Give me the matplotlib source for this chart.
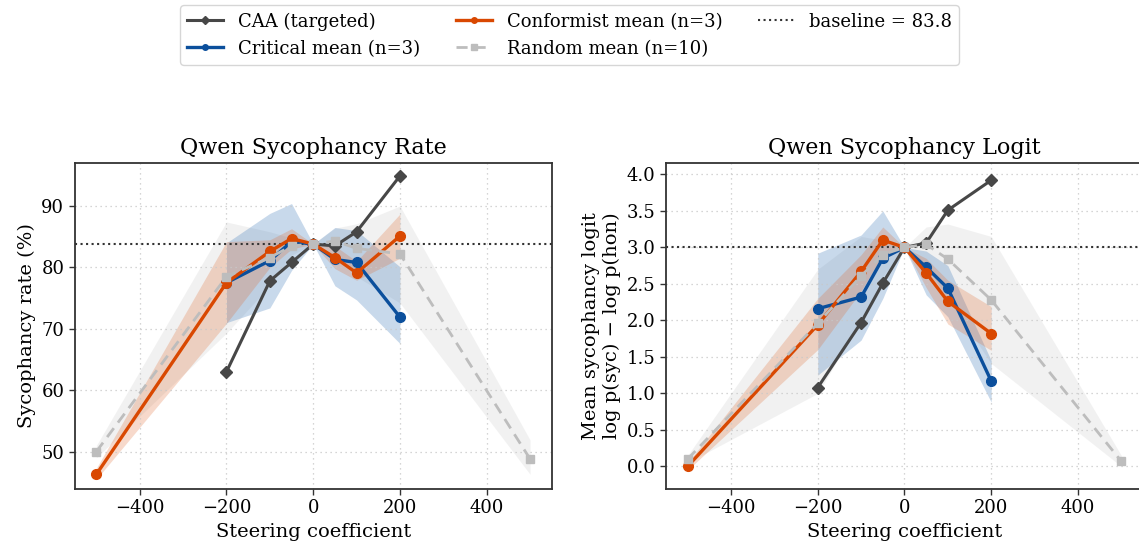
import matplotlib
matplotlib.use("Agg")
import matplotlib.pyplot as plt
from matplotlib.lines import Line2D
import numpy as np

plt.rcParams['font.family'] = ['DejaVu Serif']

# ---------------- data ----------------
caa_x = [-200, -100, -50, 0, 50, 100, 200]
caa_rate = [63.0, 77.8, 80.8, 83.8, 83.5, 85.8, 94.9]
caa_logit = [1.08, 1.97, 2.51, 3.00, 3.06, 3.51, 3.92]

crit_x = [-200, -100, -50, 0, 50, 100, 200]
crit_rate = [77.5, 81.1, 84.2, 83.8, 81.3, 80.8, 71.9]
crit_rate_lo = [71.0, 73.4, 79.5, 83.8, 77.0, 74.7, 67.6]
crit_rate_hi = [84.0, 88.8, 90.4, 83.8, 86.5, 86.0, 80.1]
crit_logit = [2.16, 2.32, 2.85, 3.00, 2.73, 2.44, 1.17]
crit_logit_lo = [1.25, 1.73, 2.30, 3.00, 2.35, 2.05, 0.88]
crit_logit_hi = [2.92, 3.17, 3.50, 3.00, 2.95, 2.75, 1.45]

conf_x = [-500, -200, -100, -50, 0, 50, 100, 200]
conf_rate = [46.3, 77.5, 82.6, 84.7, 83.8, 81.6, 79.1, 85.1]
conf_rate_lo = [45.5, 70.9, 80.0, 83.0, 83.8, 79.8, 77.9, 81.5]
conf_rate_hi = [47.3, 84.2, 84.5, 86.3, 83.8, 83.5, 81.0, 88.7]
conf_logit = [0.00, 1.94, 2.67, 3.10, 3.00, 2.65, 2.26, 1.82]
conf_logit_lo = [-0.05, 1.60, 2.40, 2.90, 3.00, 2.45, 1.95, 1.59]
conf_logit_hi = [0.05, 2.30, 2.90, 3.28, 3.00, 2.85, 2.55, 2.19]

rand_x = [-500, -200, -100, -50, 0, 50, 100, 200, 500]
rand_rate = [50.0, 78.5, 81.6, 83.5, 83.8, 84.3, 83.1, 82.2, 48.8]
rand_rate_lo = [49.0, 69.3, 77.0, 82.0, 83.8, 83.0, 78.5, 74.2, 46.3]
rand_rate_hi = [51.0, 87.4, 85.8, 84.8, 83.8, 86.4, 87.1, 90.0, 51.9]
rand_logit = [0.10, 1.96, 2.61, 2.90, 3.00, 3.04, 2.84, 2.28, 0.07]
rand_logit_lo = [0.05, 1.00, 2.00, 2.60, 3.00, 2.75, 2.30, 1.41, 0.00]
rand_logit_hi = [0.15, 2.70, 3.15, 3.10, 3.00, 3.28, 3.32, 3.15, 0.15]

baseline_rate = 83.8
baseline_logit = 3.0

C_CAA = '#474747'
C_CRIT = '#0b4f9c'
C_CONF = '#d94801'
C_RAND = '#bdbdbd'

fig = plt.figure(figsize=(11.39, 5.52), dpi=100)
ax1 = fig.add_axes([0.0656, 0.1141, 0.4188, 0.5911])
ax2 = fig.add_axes([0.5847, 0.1141, 0.4188, 0.5911])

def draw(ax, caa, crit, crit_lo, crit_hi, conf, conf_lo, conf_hi,
         rnd, rnd_lo, rnd_hi, base):
    ax.fill_between(rand_x, rnd_lo, rnd_hi, color='#d9d9d9', alpha=0.35, lw=0)
    ax.fill_between(crit_x, crit_lo, crit_hi, color='#3c78b8', alpha=0.28, lw=0)
    ax.fill_between(conf_x, conf_lo, conf_hi, color='#e06a30', alpha=0.25, lw=0)
    ax.axhline(base, color='#333333', ls=':', lw=1.5, zorder=2)
    ax.plot(caa_x, caa, color=C_CAA, lw=2.2, marker='D', ms=6.5, zorder=3)
    ax.plot(crit_x, crit, color=C_CRIT, lw=2.4, marker='o', ms=7, zorder=4)
    ax.plot(conf_x, conf, color=C_CONF, lw=2.4, marker='o', ms=7, zorder=5)
    ax.plot(rand_x, rnd, color=C_RAND, ls='--', lw=2, marker='s',
            ms=6, zorder=6, dashes=(4, 2.5))
    ax.set_xlim(-550, 550)
    ax.set_xticks([-400, -200, 0, 200, 400])
    ax.grid(True, ls=(0, (1, 3)), color='#c8c8c8', lw=0.9)
    for s in ax.spines.values():
        s.set_color('#333333')
        s.set_linewidth(1.3)
    ax.tick_params(direction='out', length=4, width=1, colors='#333333',
                   labelsize=13, labelcolor='black')
    ax.set_xlabel('Steering coefficient', fontsize=14)

draw(ax1, caa_rate, crit_rate, crit_rate_lo, crit_rate_hi,
     conf_rate, conf_rate_lo, conf_rate_hi,
     rand_rate, rand_rate_lo, rand_rate_hi, baseline_rate)
ax1.set_ylim(43.9, 97.05)
ax1.set_yticks([50, 60, 70, 80, 90])
ax1.set_ylabel('Sycophancy rate (%)', fontsize=14)
ax1.set_title('Qwen Sycophancy Rate', fontsize=16)

draw(ax2, caa_logit, crit_logit, crit_logit_lo, crit_logit_hi,
     conf_logit, conf_logit_lo, conf_logit_hi,
     rand_logit, rand_logit_lo, rand_logit_hi, baseline_logit)
ax2.set_ylim(-0.31, 4.16)
ax2.set_yticks(np.arange(0, 4.01, 0.5))
ax2.set_ylabel('Mean sycophancy logit\nlog p(syc) \u2212 log p(hon)', fontsize=14)
ax2.set_title('Qwen Sycophancy Logit', fontsize=16)

handles = [
    Line2D([], [], color=C_CAA, lw=2.2, marker='D', ms=4),
    Line2D([], [], color=C_CRIT, lw=2.4, marker='o', ms=4),
    Line2D([], [], color=C_CONF, lw=2.4, marker='o', ms=4),
    Line2D([], [], color=C_RAND, lw=2, ls='--', marker='s', ms=4, dashes=(4, 2.5)),
    Line2D([], [], color='#333333', lw=1.5, ls=':'),
]
labels = ['CAA (targeted)', 'Critical mean (n=3)', 'Conformist mean (n=3)',
          'Random mean (n=10)', 'baseline = 83.8']
fig.legend(handles, labels, ncol=3, loc='upper center',
           bbox_to_anchor=(0.5, 0.997), fontsize=13, frameon=True,
           edgecolor='#cccccc', fancybox=True, columnspacing=2.0,
           borderaxespad=0.2)

fig.savefig('out.png', dpi=100)
